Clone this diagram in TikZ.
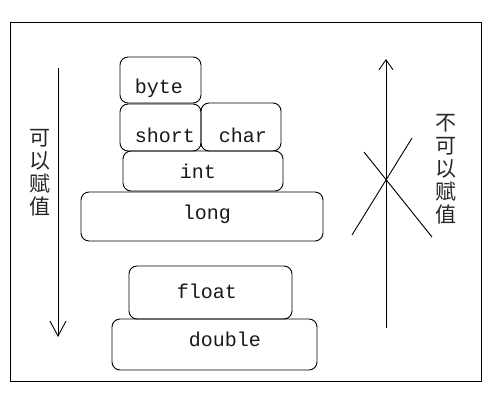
\documentclass[tikz,border=0pt]{standalone}
\usepackage{fontspec}
\setmonofont{Liberation Mono}
\newfontfamily\cjk{Noto Sans CJK SC}
\usetikzlibrary{arrows.meta}
\tikzset{
  box/.style={draw, line width=0.9pt, rounded corners=8pt, inner sep=0pt, anchor=center},
  lbl/.style={font=\ttfamily\fontsize{20}{24}\selectfont, anchor=base, inner sep=0pt, text=black!90},
  vtext/.style={font=\cjk\fontsize{21}{23}\selectfont, align=center, inner sep=0pt, text=black!85},
  thin/.style={line width=0.9pt}
}
\begin{document}
\begin{tikzpicture}[x=1pt,y=-1pt]
\useasboundingbox (0,0) rectangle (496,408);
\fill[white] (0,0) rectangle (496,408);
\node[draw, thin, inner sep=0pt, minimum width=471pt, minimum height=359pt, anchor=north west] (frame) at (10,22) {};
% boxes
\node[box, minimum width=81pt, minimum height=46pt] (byte) at (160.5,80) {};
\node[box, minimum width=81pt, minimum height=47pt] (short) at (160.5,127.5) {};
\node[box, minimum width=80pt, minimum height=48pt] (char) at (241,127) {};
\node[box, minimum width=160pt, minimum height=40pt] (int) at (203,171) {};
\node[box, minimum width=242pt, minimum height=49pt] (long) at (202,216.5) {};
\node[box, minimum width=163pt, minimum height=53pt] (float) at (210.5,292.5) {};
\node[box, minimum width=205pt, minimum height=51pt] (double) at (214.5,344.5) {};
% labels
\node[lbl] (tbyte) at (159,93) {byte};
\node[lbl] (tshort) at (165,142) {short};
\node[lbl] (tchar) at (243,142) {char};
\node[lbl] (tint) at (198,178) {int};
\node[lbl] (tlong) at (207,219) {long};
\node[lbl] (tfloat) at (207,298) {float};
\node[lbl] (tdouble) at (225,346) {double};
% arrows
\coordinate (la) at (58,68);
\coordinate (lb) at (58,337);
\draw[thin, -{Straight Barb[length=15pt,width=16pt,line width=0.9pt]}] (la) -- (lb);
\coordinate (ra) at (386,328);
\coordinate (rb) at (386,59);
\draw[thin, -{Straight Barb[length=10pt,width=14pt,line width=0.9pt]}] (ra) -- (rb);
% cross
\coordinate (c1) at (364,152);
\coordinate (c2) at (432,237);
\coordinate (c3) at (412,138);
\coordinate (c4) at (352,235);
\draw[thin] (c1) -- (c2);
\draw[thin] (c3) -- (c4);
% vertical texts
\node[vtext] (left) at (40,173) {可\\以\\赋\\值};
\node[vtext] (right) at (446,169) {不\\可\\以\\赋\\值};
\end{tikzpicture}
\end{document}
